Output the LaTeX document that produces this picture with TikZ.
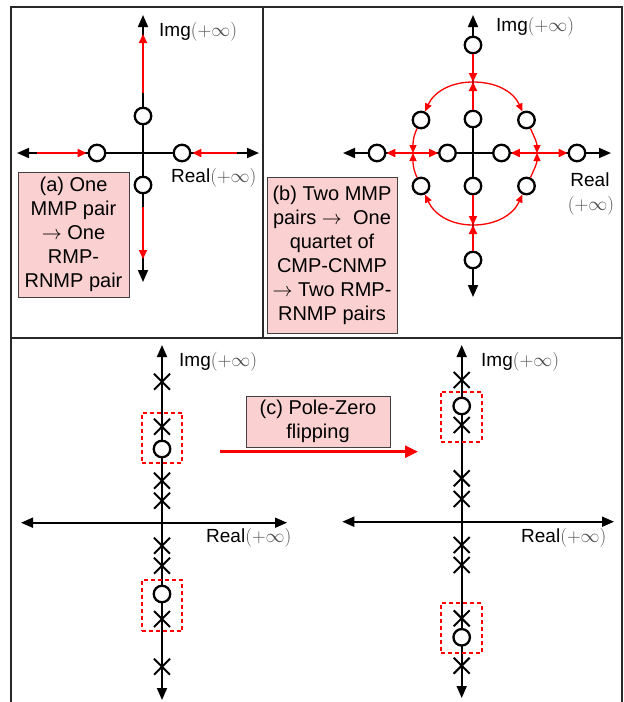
\documentclass[tikz,border=0pt]{standalone}
\usepackage{fix-cm}
\usepackage{fontspec}
\setmainfont{Liberation Sans}
\usetikzlibrary{arrows.meta,shapes.misc}
\definecolor{boxpink}{RGB}{250,208,208}
\definecolor{framegray}{RGB}{40,40,40}
\newcommand{\myinf}{\textcolor{black!70}{$(+\infty)$}}
\begin{document}
\begin{tikzpicture}[x=1pt,y=-1pt,
  ax/.style={line width=1.8pt, {Triangle[length=12pt,width=10pt]}-{Triangle[length=12pt,width=10pt]}},
  zc/.style={circle, draw, fill=white, line width=2.3pt, minimum size=16.5pt, inner sep=0pt},
  pl/.style={cross out, draw, line width=2pt, minimum size=14pt, inner sep=0pt},
  rarr/.style={red, line width=2pt, -{Triangle[length=9pt,width=8pt]}},
  rarc/.style={red, line width=1.3pt, -{Triangle[length=8pt,width=7pt]}},
  bigarr/.style={red, line width=2.5pt, -{Triangle[length=13pt,width=12pt]}},
  lbl/.style={font=\fontsize{19pt}{21pt}\selectfont, inner sep=0pt},
  pbox/.style={draw=black!75, fill=boxpink, line width=1pt, align=center, inner sep=0pt, font=\fontsize{20pt}{24pt}\selectfont},
  dbox/.style={draw=red, dash pattern=on 4pt off 3pt, line width=2pt, inner sep=0pt},
  frm/.style={draw=framegray, line width=1.3pt}
]
\useasboundingbox (0,0) rectangle (624,702);
% frame
\draw[frm] (11,702) -- (11,7) -- (622,7) -- (622,702);
\draw[frm] (11,338) -- (622,338);
\draw[frm] (263,7) -- (263,338);

% ---------- panel (a)
\coordinate (aT) at (143,15); \coordinate (aB) at (143,282);
\coordinate (aL) at (17,153); \coordinate (aR) at (259,153);
\draw[ax] (aB) -- (aT);
\draw[ax] (aL) -- (aR);
\node[zc] (a1) at (143,116) {};
\node[zc] (a2) at (97,153) {};
\node[zc] (a3) at (182,153) {};
\node[zc] (a4) at (143,185) {};
\coordinate (au0) at (143,93); \coordinate (au1) at (143,34);
\coordinate (ad0) at (143,207); \coordinate (ad1) at (143,259);
\coordinate (al0) at (37,153); \coordinate (ar0) at (237,153);
\draw[rarr] (au0) -- (au1);
\draw[rarr] (ad0) -- (ad1);
\draw[rarr, shorten >=1pt] (al0) -- (a2);
\draw[rarr, shorten >=1pt] (ar0) -- (a3);
\node[lbl, anchor=west] (aimg) at (159,32) {Img\myinf};
\node[lbl, anchor=west] (areal) at (171,178) {Real\myinf};
\node[pbox, minimum width=111pt, minimum height=125pt] (abox) at (73.5,234.5)
  {(a) One\\MMP pair\\$\rightarrow$ One\\RMP-\\RNMP pair};

% ---------- panel (b)
\coordinate (bT) at (473,15); \coordinate (bB) at (473,297);
\coordinate (bL) at (343,153); \coordinate (bR) at (611,153);
\draw[ax] (bB) -- (bT);
\draw[ax] (bL) -- (bR);
\node[zc] (b1) at (473,45) {};
\node[zc] (b2) at (473,119) {};
\node[zc] (b3) at (473,186) {};
\node[zc] (b4) at (473,260) {};
\node[zc] (h1) at (377,153) {};
\node[zc] (h2) at (447.5,153) {};
\node[zc] (h3) at (501.5,153) {};
\node[zc] (h4) at (577,153) {};
\node[zc] (ul) at (421,120) {};
\node[zc] (ur) at (526.5,120) {};
\node[zc] (ll) at (421,186) {};
\node[zc] (lr) at (526.5,186) {};
\coordinate (mT) at (473,82); \coordinate (mB) at (473,225);
\coordinate (mL) at (413,153); \coordinate (mR) at (537,153);
\draw[rarr] (b1) -- (mT);
\draw[rarr] (b2) -- (mT);
\draw[rarr] (b4) -- (mB);
\draw[rarr] (b3) -- (mB);
\draw[rarr] (mL) -- (h1);
\draw[rarr] (mL) -- (h2);
\draw[rarr] (mR) -- (h3);
\draw[rarr] (mR) -- (h4);
\draw[rarc] (mT) to[out=180,in=65] (ul);
\draw[rarc] (mT) to[out=0,in=115] (ur);
\draw[rarc] (ul) to[out=245,in=90] (mL);
\draw[rarc] (ll) to[out=115,in=270] (mL);
\draw[rarc] (ur) to[out=295,in=90] (mR);
\draw[rarc] (lr) to[out=65,in=270] (mR);
\draw[rarc] (mB) to[out=180,in=295] (ll);
\draw[rarc] (mB) to[out=0,in=245] (lr);
\node[lbl, anchor=west] (bimg) at (496,27) {Img\myinf};
\node[lbl] (breal) at (590,180) {Real};
\node[lbl] (binf) at (591,205.5) {\myinf};
\node[pbox, minimum width=130pt, minimum height=156pt] (bbox) at (332,255)
  {(b) Two MMP\\pairs $\rightarrow$\ \ One\\quartet of\\CMP-CNMP\\$\rightarrow$ Two RMP-\\RNMP pairs};

% ---------- panel (c) left
\coordinate (cT) at (162,345); \coordinate (cB) at (162,700);
\coordinate (cL) at (21,522.7); \coordinate (cR) at (287,522.7);
\draw[ax] (cB) -- (cT);
\draw[ax] (cL) -- (cR);
\node[dbox, minimum width=40.6pt, minimum height=50pt] (dl1) at (162,437.7) {};
\node[dbox, minimum width=40.6pt, minimum height=51pt] (dl2) at (162,605.5) {};
\node[pl] (lp1) at (162,381.7) {};
\node[pl] (lp2) at (162,426.7) {};
\node[pl] (lp3) at (162,480.7) {};
\node[pl] (lp4) at (162,500.7) {};
\node[pl] (lp5) at (162,545.7) {};
\node[pl] (lp6) at (162,565.7) {};
\node[pl] (lp7) at (162,619) {};
\node[pl] (lp8) at (162,666.7) {};
\node[zc] (lz1) at (162,449) {};
\node[zc] (lz2) at (162,594) {};
\node[lbl, anchor=west] (cimg) at (179,361.7) {Img\myinf};
\node[lbl, anchor=west] (creal) at (206,538) {Real\myinf};

% ---------- panel (c) right
\coordinate (dT) at (461.7,345); \coordinate (dB) at (461.7,698);
\coordinate (dL) at (342.3,521.7); \coordinate (dR) at (614,521.7);
\draw[ax] (dB) -- (dT);
\draw[ax] (dL) -- (dR);
\node[dbox, minimum width=40.7pt, minimum height=50pt] (dr1) at (461.4,416.7) {};
\node[dbox, minimum width=40.7pt, minimum height=50pt] (dr2) at (461.4,628.3) {};
\node[pl] (rp1) at (461.7,380) {};
\node[pl] (rp2) at (461.7,425) {};
\node[pl] (rp3) at (461.7,478.3) {};
\node[pl] (rp4) at (461.7,499) {};
\node[pl] (rp5) at (461.7,545) {};
\node[pl] (rp6) at (461.7,565) {};
\node[pl] (rp7) at (461.7,618.3) {};
\node[pl] (rp8) at (461.7,665.7) {};
\node[zc] (rz1) at (461.7,406) {};
\node[zc] (rz2) at (461.7,637.3) {};
\node[lbl, anchor=west] (dimg) at (481,361.7) {Img\myinf};
\node[lbl, anchor=west] (dreal) at (521,538) {Real\myinf};

% flipping box and arrow
\node[pbox, minimum width=144pt, minimum height=51pt] (cbox) at (318,421.7)
  {(c) Pole-Zero\\flipping};
\coordinate (ca0) at (220,451.7); \coordinate (ca1) at (418,451.7);
\draw[bigarr] (ca0) -- (ca1);
\end{tikzpicture}
\end{document}
